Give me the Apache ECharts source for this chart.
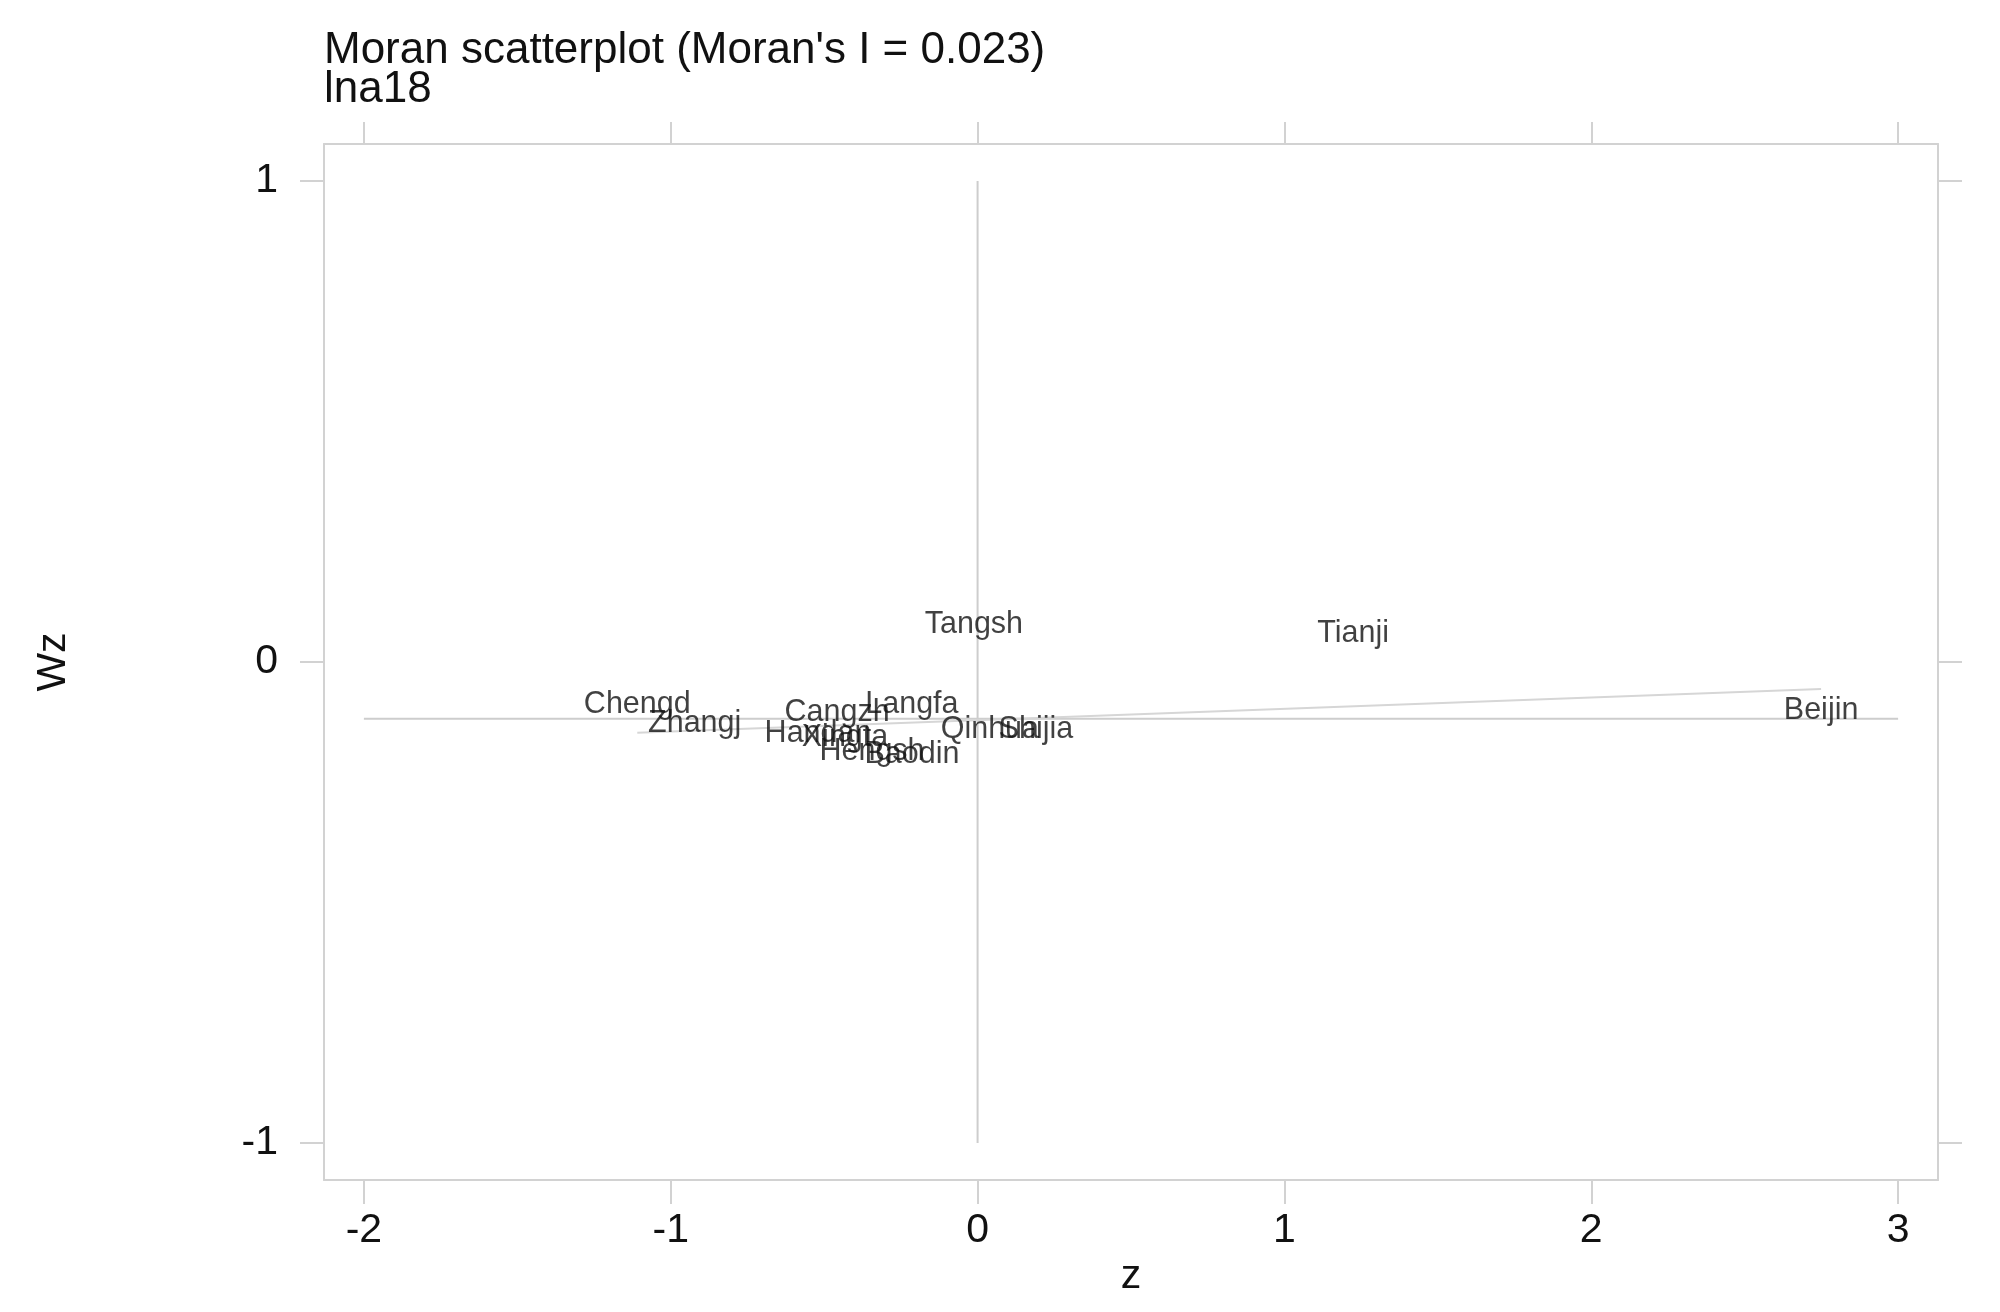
<!DOCTYPE html>
<html>
<head>
<meta charset="utf-8">
<title>Moran scatterplot</title>
<script src="https://cdn.jsdelivr.net/npm/echarts@6/dist/echarts.min.js"></script>
<style>
  html, body { margin: 0; padding: 0; background: #fff; }
  #chart { width: 2000px; height: 1312px; }
</style>
</head>
<body>
<div id="chart"></div>
<script>
// city labels (truncated to 6 chars as in the source plot)
const cities = ['Beijin', 'Tianji', 'Shijia', 'Tangsh', 'Qinhua', 'Handan', 'Xingta',
  'Baodin', 'Zhangj', 'Chengd', 'Cangzh', 'Langfa', 'Hengsh']
// standardized value z
const zValues = [2.749, 1.224, 0.190, -0.012, 0.040, -0.520, -0.432,
  -0.214, -0.922, -1.109, -0.458, -0.214, -0.344]
// spatial lag Wz
const wzValues = [-0.100, 0.060, -0.141, 0.077, -0.141, -0.148, -0.158,
  -0.193, -0.129, -0.088, -0.106, -0.089, -0.187]

const xTicks = [-2, -1, 0, 1, 2, 3]
const yTicks = [-1, 0, 1]

// reference lines: mean of Wz, and fitted line (slope = Moran's I)
const wzMean = -0.118
const regIntercept = -0.121
const regSlope = 0.0236

const xMin = -2.13, xMax = 3.13
const yMin = -1.077, yMax = 1.077

const chart = echarts.init(document.getElementById('chart'))

const gray = '#d2d2d2'
const font = 'Liberation Sans, Arial, Helvetica, sans-serif'

const zLo = Math.min(...zValues)
const zHi = Math.max(...zValues)

const pointData = cities.map((name, i) => ({ name, value: [zValues[i], wzValues[i]] }))

const axisCommon = {
  type: 'value',
  axisLine: { show: true, onZero: false, lineStyle: { color: gray, width: 2 } },
  splitLine: { show: false }
}

chart.setOption({
  animation: false,
  backgroundColor: '#fff',
  title: {
    text: "Moran scatterplot (Moran's I = 0.023)\nlna18",
    left: 319,
    top: 26,
    textStyle: { fontFamily: font, fontSize: 44, fontWeight: 'normal', color: '#111', lineHeight: 39 }
  },
  grid: { left: 324, top: 144, right: 62, bottom: 132 },
  xAxis: [
    {
      ...axisCommon,
      position: 'bottom',
      min: xMin,
      max: xMax,
      name: 'z',
      nameLocation: 'middle',
      nameGap: 70,
      nameTextStyle: { fontFamily: font, fontSize: 41, color: '#111' },
      axisTick: { show: true, length: 24, customValues: xTicks, lineStyle: { color: gray, width: 2 } },
      axisLabel: { customValues: xTicks, margin: 30, fontFamily: font, fontSize: 41, color: '#111' }
    },
    {
      ...axisCommon,
      position: 'top',
      min: xMin,
      max: xMax,
      axisTick: { show: true, length: 22, customValues: xTicks, lineStyle: { color: gray, width: 2 } },
      axisLabel: { show: false }
    }
  ],
  yAxis: [
    {
      ...axisCommon,
      position: 'left',
      min: yMin,
      max: yMax,
      name: 'Wz',
      nameLocation: 'middle',
      nameGap: 250,
      nameRotate: 90,
      nameTextStyle: { fontFamily: font, fontSize: 41, color: '#111' },
      axisTick: { show: true, length: 24, customValues: yTicks, lineStyle: { color: gray, width: 2 } },
      axisLabel: { customValues: yTicks, margin: 46, fontFamily: font, fontSize: 41, color: '#111' }
    },
    {
      ...axisCommon,
      position: 'right',
      min: yMin,
      max: yMax,
      axisTick: { show: true, length: 24, customValues: yTicks, lineStyle: { color: gray, width: 2 } },
      axisLabel: { show: false }
    }
  ],
  series: [
    {
      // vertical line at z = 0
      type: 'line',
      data: [[0, Math.min(...yTicks)], [0, Math.max(...yTicks)]],
      symbol: 'none',
      lineStyle: { color: '#cdcdcd', width: 2 },
      silent: true,
      z: 1
    },
    {
      // horizontal line at mean Wz
      type: 'line',
      data: [[Math.min(...xTicks), wzMean], [Math.max(...xTicks), wzMean]],
      symbol: 'none',
      lineStyle: { color: '#cdcdcd', width: 2 },
      silent: true,
      z: 1
    },
    {
      // fitted line
      type: 'line',
      data: [[zLo, regIntercept + regSlope * zLo], [zHi, regIntercept + regSlope * zHi]],
      symbol: 'none',
      lineStyle: { color: '#d6d6d6', width: 2 },
      silent: true,
      z: 1
    },
    {
      type: 'scatter',
      data: pointData,
      symbolSize: 1,
      itemStyle: { color: 'rgba(0,0,0,0)' },
      label: {
        show: true,
        position: 'inside',
        formatter: p => p.name,
        fontFamily: font,
        fontSize: 30.5,
        color: '#111'
      },
      z: 3
    }
  ]
})

window.addEventListener('resize', () => chart.resize())
</script>
</body>
</html>
